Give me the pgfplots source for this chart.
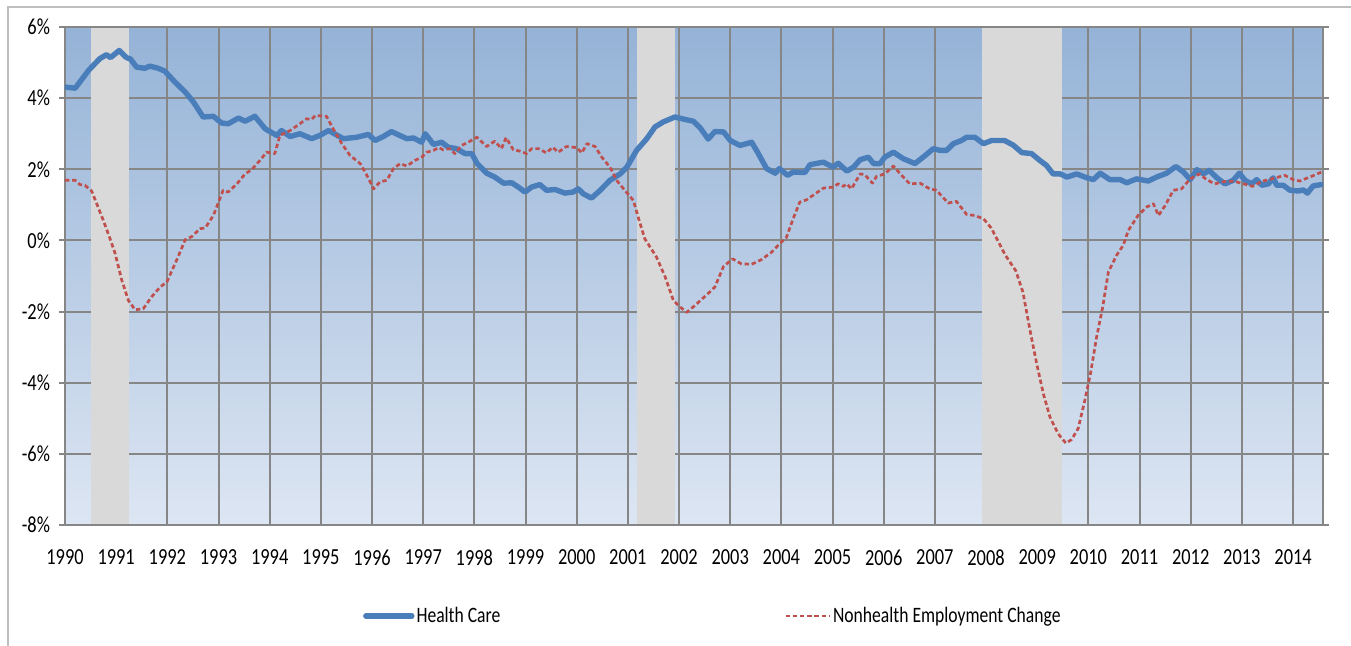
\documentclass[border=0pt]{standalone}
\usepackage{fontspec}
\setmainfont{Carlito}
\newfontfamily\narrowfont{Carlito}[FakeStretch=0.8]
\usepackage{pgfplots}
\pgfplotsset{compat=1.18}
\definecolor{hcBlue}{RGB}{74,126,187}
\definecolor{nhRed}{RGB}{192,80,77}
\definecolor{barGray}{RGB}{217,217,217}
\definecolor{gridGray}{RGB}{134,134,134}
\definecolor{frameGray}{RGB}{190,190,190}
\definecolor{bgTop}{RGB}{149,179,215}
\definecolor{bgBot}{RGB}{221,230,243}
\pgfplotsset{
  hcleg/.style={legend image code/.code={\draw[##1] (0pt,0pt) -- (23pt,0pt);}},
  nhleg/.style={legend image code/.code={\draw[##1] (0pt,0pt) -- (22pt,0pt);}},
}
\begin{document}
\begin{tikzpicture}
\useasboundingbox (0pt,0pt) rectangle (675.5pt,323pt);
\draw[frameGray, line width=0.8pt] (4pt,-5pt) -- (4pt,319.5pt) -- (680pt,319.5pt);
\begin{axis}[
  at={(32.5pt,60.5pt)}, anchor=south west,
  scale only axis, width=629pt, height=249pt,
  xmin=1990, xmax=2014.585, ymin=-8, ymax=6,
  axis background/.style={shade, top color=bgTop, bottom color=bgBot},
  xtick={1990,1991,...,2014},
  xticklabel={\pgfmathparse{int(round(\tick))}\pgfmathresult},
  ytick={-8,-6,...,6},
  yticklabels={-8\%,-6\%,-4\%,-2\%,0\%,2\%,4\%,6\%},
  grid=major,
  major grid style={gridGray, line width=1pt},
  axis line style={gridGray, line width=1pt},
  tick align=outside,
  major tick length=3pt,
  xtick style={draw=none},
  ytick style={gridGray, line width=1pt},
  tick label style={font=\narrowfont\fontsize{11.5}{13}\selectfont, text=black},
  xticklabel style={yshift=-6pt},
  yticklabel style={xshift=-1pt},
  legend style={at={(0.515,-0.183)}, anchor=center, draw=none, fill=none,
    legend columns=2, font=\narrowfont\fontsize{11}{13}\selectfont,
    /tikz/every odd column/.append style={column sep=0pt},
    /tikz/every even column/.append style={column sep=141pt},
    nodes={inner xsep=1pt}},
  legend cell align=left,
]
% recession bars
\addplot[fill=barGray, draw=none, forget plot] coordinates {(1990.5,-7.97)(1990.5,5.97)(1991.25,5.97)(1991.25,-7.97)} -- cycle;
\addplot[fill=barGray, draw=none, forget plot] coordinates {(2001.17,-7.97)(2001.17,5.97)(2001.92,5.97)(2001.92,-7.97)} -- cycle;
\addplot[fill=barGray, draw=none, forget plot] coordinates {(2007.92,-7.97)(2007.92,5.97)(2009.49,5.97)(2009.49,-7.97)} -- cycle;
% Health Care
\addplot[hcBlue, line width=2.7pt, line join=round, line cap=round, hcleg] coordinates {
(1990.0,4.31)(1990.2,4.28)(1990.46,4.78)(1990.68,5.11)(1990.81,5.22)(1990.89,5.14)(1991.06,5.34)(1991.2,5.14)(1991.28,5.1)(1991.4,4.87)(1991.56,4.84)(1991.66,4.9)(1991.82,4.84)(1991.95,4.76)(1992.15,4.45)(1992.35,4.17)(1992.51,3.89)(1992.7,3.47)(1992.9,3.49)(1993.06,3.3)(1993.19,3.28)(1993.39,3.44)(1993.52,3.35)(1993.71,3.49)(1993.91,3.14)(1994.14,2.95)(1994.23,3.09)(1994.4,2.92)(1994.59,3.0)(1994.82,2.86)(1994.98,2.95)(1995.15,3.09)(1995.44,2.86)(1995.7,2.9)(1995.93,2.98)(1996.06,2.81)(1996.22,2.92)(1996.38,3.06)(1996.68,2.86)(1996.81,2.88)(1996.97,2.76)(1997.04,3.0)(1997.2,2.7)(1997.36,2.76)(1997.49,2.62)(1997.65,2.58)(1997.82,2.44)(1997.95,2.44)(1998.05,2.17)(1998.24,1.89)(1998.4,1.78)(1998.57,1.61)(1998.73,1.62)(1998.86,1.5)(1998.99,1.36)(1999.12,1.5)(1999.28,1.57)(1999.41,1.41)(1999.58,1.43)(1999.77,1.33)(1999.93,1.36)(2000.03,1.45)(2000.13,1.31)(2000.29,1.19)(2000.46,1.41)(2000.65,1.69)(2000.85,1.87)(2000.98,2.06)(2001.17,2.53)(2001.37,2.86)(2001.53,3.19)(2001.69,3.33)(2001.92,3.47)(2002.12,3.4)(2002.28,3.35)(2002.41,3.17)(2002.57,2.85)(2002.7,3.06)(2002.87,3.05)(2003.0,2.81)(2003.19,2.67)(2003.42,2.76)(2003.55,2.44)(2003.71,2.02)(2003.88,1.89)(2003.96,2.02)(2004.12,1.83)(2004.23,1.92)(2004.46,1.91)(2004.56,2.13)(2004.82,2.2)(2005.01,2.06)(2005.11,2.17)(2005.28,1.95)(2005.41,2.06)(2005.54,2.27)(2005.7,2.34)(2005.8,2.16)(2005.93,2.16)(2006.02,2.34)(2006.19,2.48)(2006.38,2.3)(2006.61,2.16)(2006.77,2.34)(2006.97,2.58)(2007.1,2.53)(2007.23,2.53)(2007.36,2.72)(2007.52,2.81)(2007.62,2.9)(2007.78,2.9)(2007.95,2.72)(2008.11,2.81)(2008.36,2.81)(2008.53,2.68)(2008.7,2.47)(2008.89,2.44)(2009.05,2.25)(2009.18,2.11)(2009.31,1.87)(2009.45,1.87)(2009.58,1.78)(2009.77,1.87)(2009.97,1.76)(2010.1,1.71)(2010.23,1.89)(2010.42,1.71)(2010.62,1.71)(2010.75,1.62)(2010.94,1.73)(2011.17,1.67)(2011.33,1.78)(2011.53,1.89)(2011.71,2.08)(2011.86,1.92)(2011.99,1.71)(2012.12,1.99)(2012.25,1.87)(2012.36,1.97)(2012.51,1.76)(2012.67,1.59)(2012.83,1.69)(2012.95,1.89)(2013.06,1.69)(2013.19,1.59)(2013.29,1.71)(2013.39,1.55)(2013.52,1.59)(2013.61,1.76)(2013.68,1.55)(2013.81,1.55)(2013.94,1.41)(2014.1,1.39)(2014.2,1.42)(2014.28,1.33)(2014.39,1.53)(2014.55,1.57)
};
\addlegendentry{Health Care}
% Nonhealth
\addplot[nhRed, line width=1.35pt, dash pattern=on 2.2pt off 1.4pt, line join=round, nhleg] coordinates {
(1990.0,1.69)(1990.2,1.69)(1990.29,1.57)(1990.39,1.55)(1990.52,1.39)(1990.62,1.03)(1990.75,0.56)(1990.88,0.05)(1990.98,-0.37)(1991.11,-1.12)(1991.24,-1.69)(1991.37,-1.95)(1991.53,-1.92)(1991.69,-1.59)(1991.86,-1.31)(1991.99,-1.17)(1992.18,-0.56)(1992.35,0.02)(1992.48,0.11)(1992.64,0.33)(1992.74,0.35)(1992.9,0.7)(1993.09,1.41)(1993.19,1.36)(1993.36,1.59)(1993.52,1.87)(1993.65,1.99)(1993.81,2.25)(1993.94,2.48)(1994.1,2.44)(1994.2,2.95)(1994.4,3.09)(1994.59,3.28)(1994.72,3.42)(1994.82,3.4)(1994.89,3.51)(1995.11,3.49)(1995.24,3.14)(1995.41,2.72)(1995.57,2.39)(1995.77,2.16)(1995.9,1.83)(1996.03,1.45)(1996.16,1.65)(1996.29,1.69)(1996.42,2.02)(1996.55,2.16)(1996.68,2.09)(1996.84,2.25)(1996.97,2.34)(1997.07,2.48)(1997.2,2.53)(1997.3,2.61)(1997.39,2.55)(1997.52,2.58)(1997.62,2.44)(1997.75,2.67)(1997.88,2.76)(1998.05,2.9)(1998.24,2.64)(1998.4,2.79)(1998.53,2.58)(1998.62,2.89)(1998.76,2.55)(1998.89,2.51)(1999.02,2.44)(1999.12,2.58)(1999.25,2.58)(1999.41,2.46)(1999.53,2.62)(1999.64,2.48)(1999.8,2.64)(2000.0,2.61)(2000.1,2.46)(2000.2,2.72)(2000.36,2.64)(2000.49,2.34)(2000.65,2.06)(2000.78,1.69)(2000.94,1.41)(2001.11,1.12)(2001.2,0.66)(2001.33,0.05)(2001.56,-0.47)(2001.73,-1.03)(2001.89,-1.69)(2002.02,-1.87)(2002.15,-2.02)(2002.31,-1.83)(2002.47,-1.62)(2002.6,-1.45)(2002.7,-1.31)(2002.87,-0.73)(2003.05,-0.52)(2003.22,-0.66)(2003.42,-0.67)(2003.61,-0.54)(2003.81,-0.33)(2003.97,-0.09)(2004.1,0.09)(2004.23,0.61)(2004.36,1.08)(2004.49,1.14)(2004.66,1.31)(2004.82,1.47)(2005.01,1.5)(2005.11,1.59)(2005.21,1.52)(2005.28,1.59)(2005.37,1.45)(2005.54,1.87)(2005.63,1.85)(2005.78,1.61)(2005.86,1.8)(2006.02,1.87)(2006.19,2.09)(2006.35,1.83)(2006.51,1.59)(2006.71,1.61)(2006.9,1.45)(2007.03,1.41)(2007.26,1.05)(2007.42,1.1)(2007.62,0.73)(2007.78,0.7)(2007.95,0.61)(2008.1,0.35)(2008.21,0.05)(2008.37,-0.4)(2008.58,-0.85)(2008.72,-1.45)(2008.86,-2.53)(2008.99,-3.47)(2009.12,-4.31)(2009.25,-4.97)(2009.41,-5.44)(2009.56,-5.7)(2009.67,-5.6)(2009.8,-5.29)(2009.93,-4.5)(2010.04,-3.75)(2010.16,-2.72)(2010.28,-1.87)(2010.39,-0.89)(2010.55,-0.42)(2010.68,-0.14)(2010.78,0.28)(2010.97,0.7)(2011.14,0.94)(2011.27,1.03)(2011.37,0.7)(2011.5,0.98)(2011.66,1.41)(2011.82,1.45)(2011.99,1.73)(2012.17,1.87)(2012.31,1.71)(2012.47,1.59)(2012.67,1.66)(2012.86,1.66)(2013.03,1.59)(2013.21,1.52)(2013.39,1.66)(2013.58,1.73)(2013.84,1.83)(2014.0,1.71)(2014.13,1.67)(2014.36,1.8)(2014.55,1.92)
};
\addlegendentry{Nonhealth Employment Change}
\end{axis}
\end{tikzpicture}
\end{document}
